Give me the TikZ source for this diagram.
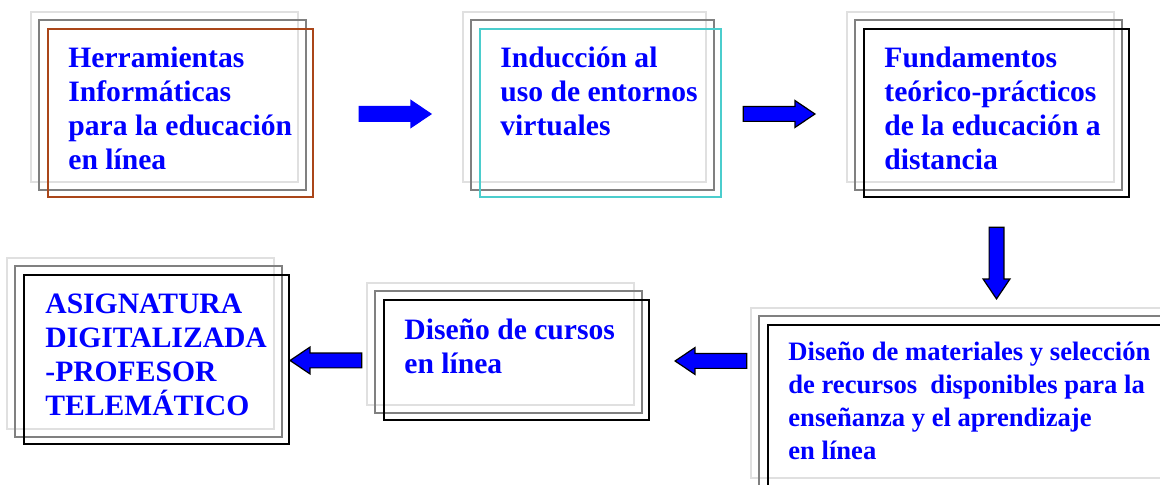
\documentclass[tikz,border=0pt]{standalone}
\usepackage{fontspec}
\setmainfont{Liberation Serif}
\usetikzlibrary{positioning,calc,shapes.arrows,backgrounds}

\definecolor{boxbrown}{RGB}{170,70,25}
\definecolor{boxteal}{RGB}{75,205,205}

\begin{document}
\begin{tikzpicture}[
        x=0.5pt, y=-0.5pt,
        frame/.style={
            rectangle, draw = #1, line width = 1pt, inner sep = 0pt, anchor = north west
        },
        backlight/.style={draw = black!12, line width = 1pt},
        backdark/.style={draw = black!50, line width = 1pt},
        boxtext/.style={
            anchor = north west, inner sep = 0pt, align = left, text = blue,
            font = \fontsize{14.8}{17}\selectfont\bfseries
        },
        smalltext/.style={
            boxtext, font = \fontsize{13.3}{16.5}\selectfont\bfseries
        },
        blockarrow/.style={
            single arrow, fill = blue, draw = black, line width = 0.6pt, inner sep = 0pt,
            text height = 6.8pt, text depth = 0pt, anchor = tip,
            minimum height = 35.8pt, minimum width = 13pt,
            single arrow head extend = 3pt, single arrow tip angle = 68
        },
    ]
    \useasboundingbox (0,0) rectangle (1160,485);

    % top row
    \node (herr) [frame=boxbrown, minimum width=132.5pt, minimum height=84pt] at (47,28) {};
    \node (herrText) [boxtext] at ($(herr.north west)+(21,19)$) {Herramientas\\Informáticas\\para la educación\\en línea};

    \node (ind) [frame=boxteal, minimum width=120.5pt, minimum height=84pt] at (479,28) {};
    \node (indText) [boxtext] at ($(ind.north west)+(21,19)$) {Inducción al\\uso de entornos\\virtuales};

    \node (fund) [frame=black, minimum width=132.5pt, minimum height=84pt] at (863,28) {};
    \node (fundText) [boxtext] at ($(fund.north west)+(21,19)$) {Fundamentos\\teórico-prácticos\\de la educación a\\distancia};

    % bottom row
    \node (mat) [frame=black, minimum width=210pt, minimum height=84pt] at (767,324) {};
    \node (matText) [smalltext] at ($(mat.north west)+(21,18)$) {Diseño de materiales y selección\\de recursos~ disponibles para la\\enseñanza y el aprendizaje\\en línea};

    \node (cur) [frame=black, minimum width=132.5pt, minimum height=60pt] at (383,299) {};
    \node (curText) [boxtext] at ($(cur.north west)+(21,19)$) {Diseño de cursos\\en línea};

    \node (asig) [frame=black, minimum width=132.5pt, minimum height=84.5pt] at (23,274) {};
    \node (asigText) [boxtext] at ($(asig.north west)+(22,20)$) {ASIGNATURA\\DIGITALIZADA\\-PROFESOR\\TELEMÁTICO};

    % frames behind
    \begin{scope}[on background layer]
        \foreach \b in {herr,ind,fund,mat,cur,asig} {
            \draw[backlight] ($(\b.north west)+(-16,-16)$) rectangle ($(\b.south east)+(-16,-16)$);
            \draw[backdark] ($(\b.north west)+(-8,-8)$) rectangle ($(\b.south east)+(-8,-8)$);
        }
    \end{scope}

    % arrows
    \node (toInd) [blockarrow, draw=blue] at ($(ind.west)+(-47,1)$) {};
    \node (toFund) [blockarrow] at ($(fund.west)+(-47,1)$) {};
    \node (toMat) [blockarrow, rotate=-90] at ($(fund.south)+(0,102)$) {};
    \node (toCur) [blockarrow, rotate=180] at ($(cur.east)+(24,1)$) {};
    \node (toAsig) [blockarrow, rotate=180] at ($(asig.east)+(-1,1)$) {};

\end{tikzpicture}
\end{document}
